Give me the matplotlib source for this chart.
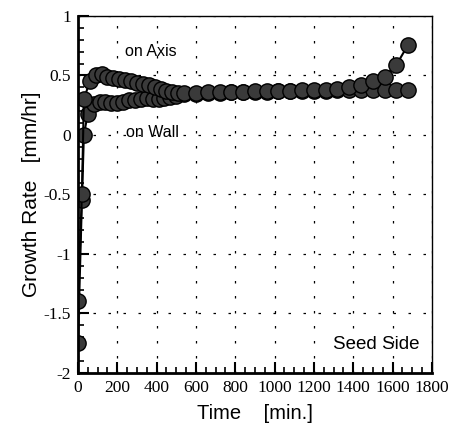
import matplotlib.pyplot as plt
from matplotlib.ticker import MultipleLocator, FuncFormatter

plt.rcParams['axes.unicode_minus'] = False

# growth rate measured on the axis
t_axis = [0, 20, 30, 60, 90, 120, 150, 180, 210, 240, 270, 300, 330, 360, 390, 420, 450, 480,
          510, 540, 600, 660, 720, 780, 840, 900, 960, 1020, 1080, 1140, 1200, 1260, 1320,
          1380, 1440, 1500, 1560, 1620, 1680]
rate_axis = [-1.40, -0.50, 0.30, 0.45, 0.50, 0.51, 0.49, 0.48, 0.47, 0.46, 0.45, 0.44, 0.43,
             0.42, 0.40, 0.39, 0.37, 0.36, 0.35, 0.35, 0.35, 0.36, 0.36, 0.36, 0.36, 0.37,
             0.37, 0.37, 0.37, 0.38, 0.38, 0.38, 0.39, 0.40, 0.42, 0.45, 0.49, 0.59, 0.76]

# growth rate measured on the wall
t_wall = [0, 20, 30, 50, 80, 110, 140, 170, 200, 230, 260, 290, 320, 350, 380, 410, 440, 470,
          500, 540, 600, 660, 720, 780, 840, 900, 960, 1020, 1080, 1140, 1200, 1260, 1320,
          1380, 1440, 1500, 1560, 1620, 1680]
rate_wall = [-1.75, -0.55, 0.00, 0.18, 0.26, 0.28, 0.28, 0.27, 0.27, 0.28, 0.29, 0.29, 0.30,
             0.31, 0.30, 0.30, 0.31, 0.32, 0.33, 0.34, 0.34, 0.35, 0.35, 0.36, 0.36, 0.36,
             0.36, 0.37, 0.37, 0.37, 0.37, 0.37, 0.38, 0.38, 0.38, 0.38, 0.38, 0.38, 0.38]

fig = plt.figure(figsize=(4.56, 4.32), dpi=100)
ax = fig.add_axes([0.171, 0.137, 0.776, 0.826])

style = dict(color='black', lw=1.5, marker='o', ms=11, mfc='#3a3a3a', mec='black', mew=1.0)
ax.plot(t_wall, rate_wall, **style)
ax.plot(t_axis, rate_axis, **style)

ax.set_xlim(0, 1800)
ax.set_ylim(-2, 1)
ax.xaxis.set_major_locator(MultipleLocator(200))
ax.xaxis.set_minor_locator(MultipleLocator(50))
ax.yaxis.set_major_locator(MultipleLocator(0.5))
ax.yaxis.set_minor_locator(MultipleLocator(0.1))
ax.yaxis.set_major_formatter(FuncFormatter(lambda v, p: '%g' % v))
ax.tick_params(which='both', direction='in', top=False, right=False)
ax.tick_params(which='major', length=8, width=1.5, pad=5)
ax.tick_params(which='minor', length=4, width=1.2)
for lab in ax.get_xticklabels() + ax.get_yticklabels():
    lab.set_family('Liberation Serif')
    lab.set_fontsize(12.5)

ax.grid(True, which='major', color='black', lw=0.9, linestyle=(0, (2, 10)))
for side in ['left', 'bottom']:
    ax.spines[side].set_linewidth(2)
for side in ['top', 'right']:
    ax.spines[side].set_linewidth(1)

ax.set_xlabel('Time    [min.]', family='Liberation Sans', fontsize=14.5, labelpad=6)
ax.set_ylabel('Growth Rate   [mm/hr]', family='Liberation Sans', fontsize=15, labelpad=2)

ax.text(240, 0.70, 'on Axis', family='Liberation Sans', fontsize=11.5, va='center')
ax.text(245, 0.02, 'on Wall', family='Liberation Sans', fontsize=11.5, va='center')
ax.text(1735, -1.76, 'Seed Side', family='Liberation Sans', fontsize=13.5, ha='right', va='center')

fig.savefig('out.png', dpi=100)
